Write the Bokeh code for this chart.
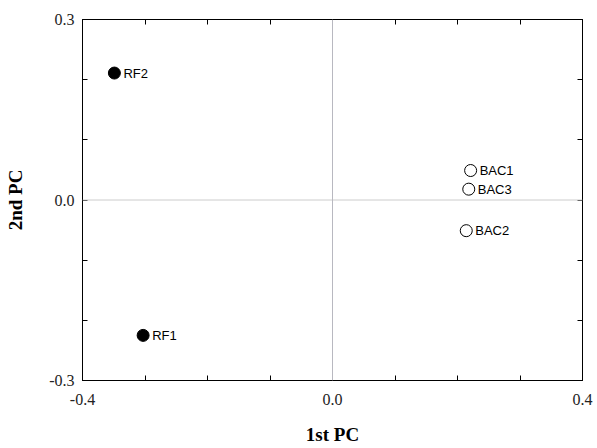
from bokeh.plotting import figure
from bokeh.models import (LinearAxis, FixedTicker, CustomJSTickFormatter, Span,
                          Range1d, ColumnDataSource, LabelSet)
from bokeh.embed import file_html
from bokeh.resources import INLINE
from bokeh.core.properties import value

# ---- data ----
names_filled = ["RF1", "RF2"]
pc1_filled = [-0.303, -0.349]
pc2_filled = [-0.225, 0.211]

names_open = ["BAC1", "BAC2", "BAC3"]
pc1_open = [0.221, 0.214, 0.218]
pc2_open = [0.049, -0.051, 0.018]

x_ticks = [-0.4, -0.3, -0.2, -0.1, 0.0, 0.1, 0.2, 0.3, 0.4]
y_ticks = [-0.3, -0.2, -0.1, 0.0, 0.1, 0.2, 0.3]
x_labeled = [-0.4, 0.0, 0.4]
y_labeled = [-0.3, 0.0, 0.3]

SERIF = "Liberation Serif"
SANS = "Liberation Sans"

p = figure(width=597, height=448,
           x_range=Range1d(-0.4, 0.4), y_range=Range1d(-0.3, 0.3),
           output_backend="svg", toolbar_location=None,
           min_border_left=82, min_border_right=15,
           min_border_top=19, min_border_bottom=68,
           x_axis_label="1st PC", y_axis_label="2nd PC")
p.grid.visible = False
p.outline_line_color = "black"
p.outline_line_width = 1
p.background_fill_color = "white"
p.border_fill_color = "white"

def fmt(keep):
    return CustomJSTickFormatter(args=dict(keep=keep), code="""
        for (const k of keep) {
            if (Math.abs(tick - k) < 1e-9) {
                return Math.abs(k) < 1e-9 ? "0.0" : k.toFixed(1);
            }
        }
        return "";
    """)

def style(ax, ticks, keep, show_labels=True):
    ax.ticker = FixedTicker(ticks=ticks)
    ax.minor_tick_line_color = None
    ax.major_tick_in = 5
    ax.major_tick_out = 0
    ax.axis_line_color = "black"
    ax.major_tick_line_color = "black"
    if show_labels:
        ax.formatter = fmt(keep)
        ax.major_label_text_font = SERIF
        ax.major_label_text_font_size = "16px"
        ax.major_label_text_color = "#222222"
        ax.axis_label_text_font = SERIF
        ax.axis_label_text_font_style = "bold"
        ax.axis_label_text_font_size = "19px"
        ax.axis_label_text_color = "black"
    else:
        ax.formatter = fmt([])
        ax.major_label_text_font_size = "0px"
        ax.major_label_standoff = 0

xa = p.xaxis[0]
ya = p.yaxis[0]
style(xa, x_ticks, x_labeled)
style(ya, y_ticks, y_labeled)
xa.major_label_standoff = 13
xa.axis_label_standoff = 16
ya.major_label_standoff = 8
ya.axis_label_standoff = 20

top = LinearAxis()
style(top, x_ticks, [], show_labels=False)
right = LinearAxis()
style(right, y_ticks, [], show_labels=False)
p.add_layout(top, "above")
p.add_layout(right, "right")

p.add_layout(Span(location=0, dimension="width", line_color="#cccccc", line_width=1))
p.add_layout(Span(location=0, dimension="height", line_color="#b8b8c0", line_width=1))

src_f = ColumnDataSource(dict(x=pc1_filled, y=pc2_filled, name=names_filled))
src_o = ColumnDataSource(dict(x=pc1_open, y=pc2_open, name=names_open))

p.scatter("x", "y", source=src_f, size=12, fill_color="black", line_color="black")
p.scatter("x", "y", source=src_o, size=12, fill_color="white", line_color="black",
          line_width=1)

for src in (src_f, src_o):
    p.add_layout(LabelSet(x="x", y="y", text="name", source=src, x_offset=9, y_offset=0,
                          text_baseline="middle", text_align="left",
                          text_font=value(SANS), text_font_size="13px",
                          text_color="black"))

open("out.html", "w").write(file_html(p, INLINE))
